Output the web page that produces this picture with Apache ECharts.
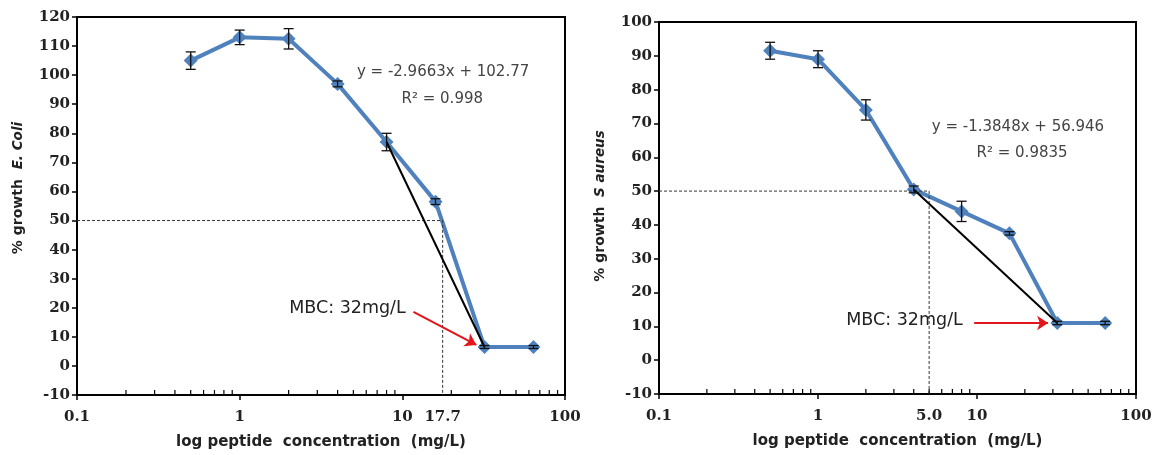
<!DOCTYPE html>
<html>
<head>
<meta charset="utf-8">
<script src="https://cdn.jsdelivr.net/npm/echarts@6/dist/echarts.min.js"></script>
<style>
  html, body { margin: 0; padding: 0; background: #ffffff; }
  #chart { width: 1156px; height: 455px; }
</style>
</head>
<body>
<div id="chart"></div>
<script>
// Peptide concentrations tested (mg/L), shared by both panels
const concentrations = [0.5, 1, 2, 4, 8, 16, 32, 64];

// E. coli growth (%) and standard deviation
const ecoliGrowth = [105, 113, 112.5, 97, 77, 56.5, 6.5, 6.5];
const ecoliError = [3, 2.5, 3.5, 1, 3, 1, 0.5, 0.5];

// S. aureus growth (%) and standard deviation
const saureusGrowth = [91.5, 89, 74, 50.5, 44, 37.5, 11, 11];
const saureusError = [2.5, 2.5, 3, 1, 3, 0.5, 0.5, 0.5];

// Index range of the points used for the linear fit in each panel
const ecoliFitRange = [4, 6];
const saureusFitRange = [3, 6];

// Concentration giving 50 % growth
const ecoliHalf = 17.7;
const saureusHalf = 5.0;
const halfGrowth = 50;

// Axis ticks
const xTickLabels = ['0.1', '1', '10', '100'];
const minorTickValues = [0.2, 0.3, 0.4, 0.5, 0.6, 0.7, 0.8, 0.9,
                         2, 3, 4, 5, 6, 7, 8, 9,
                         20, 30, 40, 50, 60, 70, 80, 90];
const ecoliYRange = [-10, 120];
const saureusYRange = [-10, 100];
const yTickStep = 10;

const BLUE = '#4F81BD';
const TICK_FONT = { fontFamily: 'DejaVu Serif', fontWeight: 'bold', fontSize: 15, color: '#222' };

function pairs(xs, ys) { return xs.map((x, i) => [x, ys[i]]); }

function xAxisFor(gridIndex) {
  return {
    type: 'log', logBase: 10, min: 0.1, max: 100, gridIndex,
    name: 'log peptide  concentration  (mg/L)',
    nameLocation: 'middle', nameGap: 40,
    nameTextStyle: { fontFamily: 'DejaVu Sans', fontWeight: 'bold', fontSize: 15, color: '#222' },
    axisLine: { onZero: false, lineStyle: { color: '#000', width: 2 } },
    axisTick: { show: true, length: 5, lineStyle: { color: '#000', width: 1.5 } },
    splitLine: { show: false },
    minorTick: { show: false },
    axisLabel: Object.assign({
      margin: 15,
      formatter: v => xTickLabels[Math.round(Math.log10(v)) + 1]
    }, TICK_FONT)
  };
}

function yAxisFor(gridIndex, range, species, lift) {
  return {
    type: 'value', gridIndex, min: range[0], max: range[1], interval: yTickStep,
    name: '{a|% growth  }{b|' + species + '}',
    nameLocation: 'middle', nameGap: 52, nameRotate: 90,
    nameTextStyle: {
      fontFamily: 'DejaVu Sans', fontSize: 14, color: '#222',
      padding: [0, 0, 0, lift],
      rich: {
        a: { fontFamily: 'DejaVu Sans', fontWeight: 'bold', fontSize: 14, color: '#222' },
        b: { fontFamily: 'DejaVu Sans', fontStyle: 'italic', fontWeight: 'bold', fontSize: 13.5, color: '#222' }
      }
    },
    axisLine: { show: true, onZero: false, lineStyle: { color: '#000', width: 2 } },
    axisTick: { show: true, length: 5, lineStyle: { color: '#000', width: 1.5 } },
    splitLine: { show: false },
    axisLabel: Object.assign({ margin: 7 }, TICK_FONT)
  };
}

function errorBarSeries(idx, ys, errs) {
  return {
    type: 'custom', xAxisIndex: idx, yAxisIndex: idx, z: 4,
    data: concentrations.map((x, i) => [x, ys[i] - errs[i], ys[i] + errs[i]]),
    renderItem: (params, api) => {
      const lo = api.coord([api.value(0), api.value(1)]);
      const hi = api.coord([api.value(0), api.value(2)]);
      const w = 5;
      const st = { stroke: '#111', lineWidth: 1.3 };
      return {
        type: 'group',
        children: [
          { type: 'line', shape: { x1: lo[0], y1: lo[1], x2: hi[0], y2: hi[1] }, style: st },
          { type: 'line', shape: { x1: lo[0] - w, y1: lo[1], x2: lo[0] + w, y2: lo[1] }, style: st },
          { type: 'line', shape: { x1: hi[0] - w, y1: hi[1], x2: hi[0] + w, y2: hi[1] }, style: st }
        ]
      };
    }
  };
}

function minorTickSeries(idx, yMin) {
  return {
    type: 'custom', xAxisIndex: idx, yAxisIndex: idx, z: 5, silent: true,
    data: minorTickValues.map(v => [v, yMin]),
    renderItem: (params, api) => {
      const p = api.coord([api.value(0), api.value(1)]);
      return { type: 'line', shape: { x1: p[0], y1: p[1], x2: p[0], y2: p[1] - 5 },
               style: { stroke: '#000', lineWidth: 1.2 } };
    }
  };
}

function textMark(coord, text, style) {
  return {
    coord, symbolSize: 0,
    label: Object.assign({ show: true, position: 'inside', formatter: text,
                           fontFamily: 'DejaVu Sans', fontSize: 15, color: '#444' }, style || {})
  };
}

function panelSeries(idx, ys, errs, fitRange, half, yMin, eq, r2, eqPos, r2Pos, mbcPos, arrowFrom, arrowTo) {
  const fit = [fitRange[0], fitRange[1]].map(i => [concentrations[i], ys[i]]);
  return [
    {
      type: 'line', xAxisIndex: idx, yAxisIndex: idx, z: 3,
      data: [[0.1, halfGrowth], [half, halfGrowth], [half, yMin]],
      symbol: 'none', silent: true,
      lineStyle: { color: '#333', width: 1, type: [3, 2] },
      markPoint: {
        silent: true,
        data: [textMark([half, yMin], half.toFixed(1),
          Object.assign({ position: 'bottom', distance: 15 }, TICK_FONT))]
      }
    },
    {
      type: 'line', xAxisIndex: idx, yAxisIndex: idx, z: 2,
      data: pairs(concentrations, ys),
      symbol: 'diamond', symbolSize: 14,
      lineStyle: { color: BLUE, width: 4 },
      itemStyle: { color: BLUE }
    },
    errorBarSeries(idx, ys, errs),
    {
      type: 'line', xAxisIndex: idx, yAxisIndex: idx, z: 3,
      data: fit, symbol: 'none', silent: true,
      lineStyle: { color: '#000', width: 2 },
      markPoint: {
        silent: true,
        data: [
          textMark(eqPos, eq),
          textMark(r2Pos, r2),
          textMark(mbcPos, 'MBC: 32mg/L', { fontSize: 17.5, color: '#222' })
        ]
      },
      markLine: {
        silent: true,
        symbol: ['none', 'arrow'], symbolSize: 11,
        lineStyle: { color: '#E3151A', width: 2, type: 'solid' },
        label: { show: false },
        data: [[{ coord: arrowFrom }, { coord: arrowTo }]]
      }
    },
    minorTickSeries(idx, yMin)
  ];
}

const chart = echarts.init(document.getElementById('chart'), null, { renderer: 'canvas' });
chart.setOption({
  animation: false,
  backgroundColor: '#ffffff',
  grid: [
    { left: 77, top: 17, width: 488, height: 381, show: true, borderColor: '#000', borderWidth: 2, backgroundColor: 'transparent' },
    { left: 659, top: 22, width: 477, height: 372, show: true, borderColor: '#000', borderWidth: 2, backgroundColor: 'transparent' }
  ],
  xAxis: [xAxisFor(0), xAxisFor(1)],
  yAxis: [yAxisFor(0, ecoliYRange, 'E. Coli', 36), yAxisFor(1, saureusYRange, 'S aureus', 4)],
  series: [
    ...panelSeries(0, ecoliGrowth, ecoliError, ecoliFitRange, ecoliHalf, ecoliYRange[0],
      'y = -2.9663x + 102.77', 'R² = 0.998',
      [17.8, 100.9], [17.6, 91.7], [4.6, 19.7], [11.7, 18.6], [28.5, 7.2]),
    ...panelSeries(1, saureusGrowth, saureusError, saureusFitRange, saureusHalf, saureusYRange[0],
      'y = -1.3848x + 56.946', 'R² = 0.9835',
      [18.1, 68.9], [19.2, 61.2], [3.5, 11.8], [9.6, 11], [28, 11])
  ]
});
</script>
</body>
</html>
